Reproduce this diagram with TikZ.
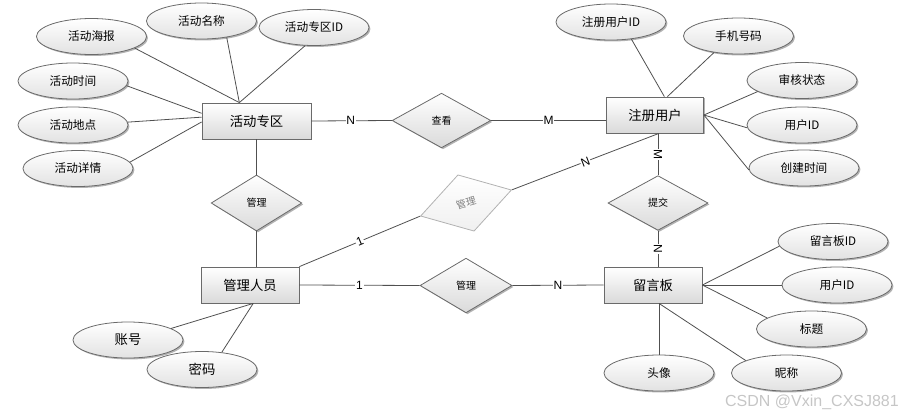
\documentclass[tikz,border=0pt]{standalone}
\usepackage{fontspec}
\setmainfont{Noto Sans CJK SC}
\newfontfamily\cardfont{Liberation Sans}
\usetikzlibrary{shapes.geometric,shadows}
\definecolor{linegray}{HTML}{505050}
\definecolor{bordergray}{HTML}{6A6A6A}
\definecolor{boxgray}{HTML}{DADADA}
\definecolor{ellgray}{HTML}{E2E2E2}
\begin{document}
\begin{tikzpicture}[x=0.75pt,y=-0.75pt,
  shadowed/.style={drop shadow={shadow xshift=1.1pt,shadow yshift=-1.1pt,opacity=0.3,fill=black}},
  ent/.style={rectangle,draw=bordergray,line width=0.6pt,top color=white,bottom color=boxgray,
    minimum width=#1,minimum height=27pt,inner sep=0pt,font=\fontsize{10}{12}\selectfont,shadowed},
  attr/.style={ellipse,draw=bordergray,line width=0.6pt,top color=white,bottom color=ellgray,
    minimum width=82.5pt,minimum height=27pt,inner sep=0pt,font=\fontsize{8.75}{10}\selectfont,shadowed},
  rel/.style n args={2}{diamond,draw=bordergray,line width=0.6pt,top color=white,bottom color=boxgray,
    minimum width=#1,minimum height=#2,inner sep=0pt,font=\fontsize{7.5}{9}\selectfont,shadowed},
  grayrel/.style={diamond,draw=gray!60,line width=0.6pt,top color=white,bottom color=gray!12,
    minimum width=71pt,minimum height=44pt,inner sep=0pt,text=gray,font=\fontsize{7.5}{9}\selectfont},
  conn/.style={draw=linegray,line width=0.6pt},
  card/.style={fill=white,inner sep=0.6pt,font=\cardfont\fontsize{9}{10}\selectfont}
]
\useasboundingbox (0,0) rectangle (904,418);

% entities
\node[ent=81.75pt] (hd) at (256.5,121) {活动专区};
\node[ent=72.75pt] (zc) at (655,115) {注册用户};
\node[ent=73.5pt] (gl) at (250,285) {管理人员};
\node[ent=73.5pt] (lyb) at (653,285) {留言板};

% relations
\node[rel={74pt}{41pt}] (chakan) at (441.5,120.5) {查看};
\node[rel={68pt}{42pt}] (guanli1) at (256.5,203) {管理};
\node[rel={69pt}{41pt}] (guanli2) at (466,285.5) {管理};
\node[rel={75pt}{41pt}] (tijiao) at (658,203) {提交};
\node[grayrel,rotate=16] (guanli3) at (466,203) {管理};

% attributes of 活动专区
\node[attr] (haibao) at (91.5,36.5) {活动海报};
\node[attr] (mingcheng) at (201.5,21) {活动名称};
\node[attr] (hdid) at (314,27.5) {活动专区ID};
\node[attr] (shijian) at (73,81) {活动时间};
\node[attr] (didian) at (73,125) {活动地点};
\node[attr] (xiangqing) at (78,168.5) {活动详情};

% attributes of 注册用户
\node[attr] (zcid) at (611,22) {注册用户ID};
\node[attr] (shouji) at (738.5,36) {手机号码};
\node[attr] (shenhe) at (802,80.5) {审核状态};
\node[attr] (yhid) at (802,125) {用户ID};
\node[attr] (cjsj) at (804,168) {创建时间};

% attributes of 留言板
\node[attr] (lybid) at (833,241.5) {留言板ID};
\node[attr] (lyhid) at (837,285) {用户ID};
\node[attr] (biaoti) at (811.5,329) {标题};
\node[attr] (touxiang) at (659,373) {头像};
\node[attr] (nicheng) at (786.5,373) {昵称};

% attributes of 管理人员
\node[attr,font=\fontsize{10}{12}\selectfont] (zhanghao) at (128,340) {账号};
\node[attr,font=\fontsize{10}{12}\selectfont] (mima) at (202,369.5) {密码};

% attribute connectors
\draw[conn] (haibao.-15) -- (hd.133);
\draw[conn] (mingcheng.-33) -- (hd.133);
\draw[conn] (hdid.244) -- (hd.133);
\draw[conn] (shijian.-5) -- (hd.172);
\draw[conn] (didian.3) -- (hd.176);
\draw[conn] (xiangqing.7) -- (hd.181);

\draw[conn] (zcid.-40) -- (zc.63);
\draw[conn] (shouji.214) -- (zc.56);
\draw[conn] (shenhe.194) -- (zc.east);
\draw[conn] (yhid.183) -- (zc.east);
\draw[conn] (cjsj.182) -- (zc.east);

\draw[conn] (lybid.185) -- (lyb.east);
\draw[conn] (lyhid.west) -- (lyb.east);
\draw[conn] (biaoti.166) -- (lyb.east);
\draw[conn] (touxiang.north) -- (touxiang.north |- lyb.south);
\draw[conn] (nicheng.163) -- (lyb.-72);

\draw[conn] (zhanghao.15) -- (gl.-80);
\draw[conn] (mima.41) -- (gl.-80);

% relationship connectors
\draw[conn] (hd.east) -- node[card,pos=0.49]{N} (chakan.west);
\draw[conn] (chakan.east) -- node[card]{M} (chakan.east -| zc.west);
\draw[conn] (hd.south) -- (guanli1.north);
\draw[conn] (guanli1.south) -- (guanli1.south |- gl.north);
\draw[conn] (gl.east) -- node[card]{1} (guanli2.west);
\draw[conn] (guanli2.east) -- node[card]{N} (lyb.west);
\draw[conn] (tijiao.north |- zc.south) -- node[card,rotate=-90]{M} (tijiao.north);
\draw[conn] (tijiao.south) -- node[card,rotate=-90]{N} (tijiao.south |- lyb.north);
\draw[conn] (gl.north east) -- node[card,sloped]{1} (guanli3.west);
\draw[conn] (guanli3.east) -- node[card,sloped]{N} (zc.-78);

% watermark
\node[text=gray!45,font=\cardfont\fontsize{12}{14}\selectfont,inner sep=0pt] (wm) at (812,402) {CSDN @Vxin\_CXSJ881};
\end{tikzpicture}
\end{document}
